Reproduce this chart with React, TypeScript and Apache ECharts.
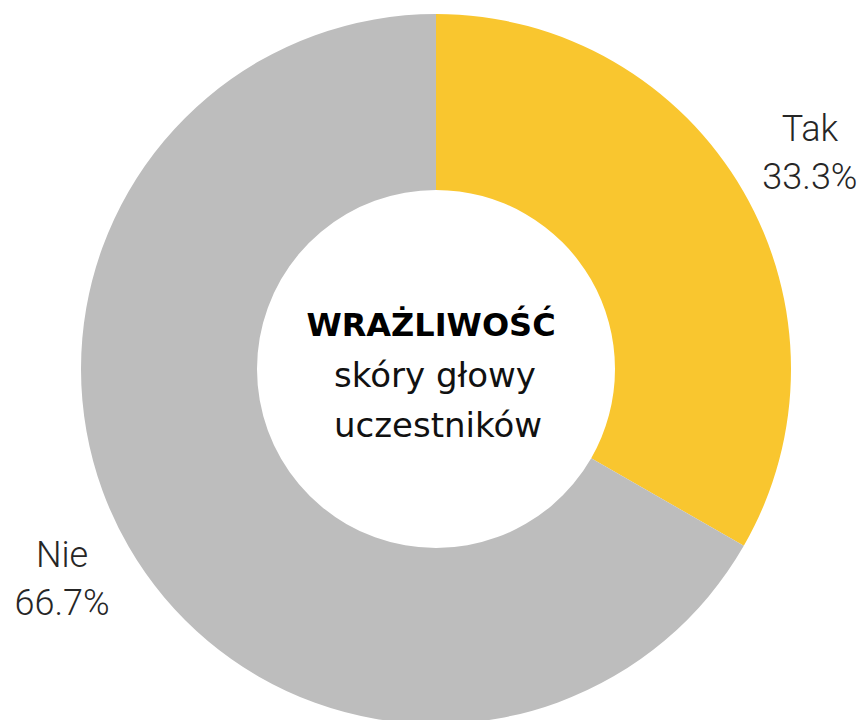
import React, { useEffect, useRef } from "react";
import * as echarts from "echarts";

const categories = ["Tak", "Nie"];
const values = [33.3, 66.7];
const colors = ["#F9C62F", "#BDBDBD"];
const titleLines = ["WRAŻLIWOŚĆ", "skóry głowy", "uczestników"];

const CX = 436;
const CY = 369;
const R_IN = 179;
const R_OUT = 355;
const LABEL_DIST = 432;

export default function App() {
  const ref = useRef<HTMLDivElement>(null);
  useEffect(() => {
    document.body.style.margin = "0";
    const chart = echarts.init(ref.current!, null, { renderer: "svg" });
    const total = values.reduce((a, b) => a + b, 0);
    const mids: number[] = [];
    let acc = 0;
    values.forEach((v) => {
      mids.push(((acc + v / 2) / total) * Math.PI * 2);
      acc += v;
    });
    chart.setOption({
      animation: false,
      backgroundColor: "#ffffff",
      series: [
        {
          type: "pie",
          center: [CX, CY],
          radius: [R_IN, R_OUT],
          startAngle: 90,
          clockwise: true,
          silent: true,
          itemStyle: { borderWidth: 0 },
          labelLine: { show: false },
          label: {
            show: true,
            position: "outside",
            formatter: (p: any) => `${p.name}\n${p.value.toFixed(1)}%`,
            fontFamily: "Roboto",
            fontWeight: 300,
            fontSize: 36,
            lineHeight: 48,
            color: "#262626",
            align: "center",
            overflow: "none",
            width: 200,
          },
          labelLayout: (params: any) => {
            const a = mids[params.dataIndex];
            return {
              x: CX + LABEL_DIST * Math.sin(a),
              y: CY - LABEL_DIST * Math.cos(a) + (params.dataIndex === 1 ? -6 : 0),
              align: "center",
              verticalAlign: "middle",
            };
          },
          data: categories.map((c, i) => ({
            name: c,
            value: values[i],
            itemStyle: { color: colors[i] },
          })),
        },
      ],
      graphic: [
        {
          type: "text",
          x: CX - 5,
          y: CY - 44,
          style: {
            text: titleLines[0],
            fontFamily: "DejaVu Sans",
            fontWeight: "bold",
            fontSize: 32,
            fill: "#000000",
            align: "center",
            verticalAlign: "middle",
          },
        },
        {
          type: "text",
          x: CX - 1,
          y: CY + 6,
          style: {
            text: titleLines[1],
            fontFamily: "DejaVu Sans",
            fontWeight: "normal",
            fontSize: 34,
            fill: "#111111",
            align: "center",
            verticalAlign: "middle",
          },
        },
        {
          type: "text",
          x: CX + 2,
          y: CY + 56,
          style: {
            text: titleLines[2],
            fontFamily: "DejaVu Sans",
            fontWeight: "normal",
            fontSize: 34,
            fill: "#111111",
            align: "center",
            verticalAlign: "middle",
          },
        },
      ],
    });
    return () => chart.dispose();
  }, []);
  return (
    <div
      ref={ref}
      style={{ position: "absolute", left: 0, top: 0, width: 865, height: 720 }}
    />
  );
}
